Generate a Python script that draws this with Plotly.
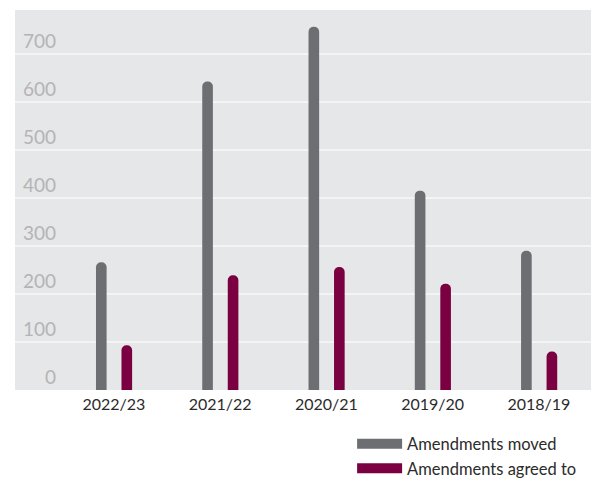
import plotly.graph_objects as go

years = ["2022/23", "2021/22", "2020/21", "2019/20", "2018/19"]
moved = [266, 642, 756, 415, 290]
agreed = [93, 239, 256, 221, 80]
y_ticks = [0, 100, 200, 300, 400, 500, 600, 700]

GREY = "#6d6e71"
MAROON = "#7b0041"
FONT = "Lato, 'Open Sans', sans-serif"

fig = go.Figure()
fig.add_trace(go.Bar(x=years, y=moved, width=0.1, offset=-0.168,
                     marker=dict(color=GREY, cornerradius="50%", line_width=0),
                     showlegend=False, name="Amendments moved"))
fig.add_trace(go.Bar(x=years, y=agreed, width=0.1, offset=0.072,
                     marker=dict(color=MAROON, cornerradius="50%", line_width=0),
                     showlegend=False, name="Amendments agreed to"))
# legend entries
fig.add_trace(go.Scatter(x=[None], y=[None], mode="lines", name="Amendments moved",
                         line=dict(color=GREY, width=11)))
fig.add_trace(go.Scatter(x=[None], y=[None], mode="lines", name="Amendments agreed to",
                         line=dict(color=MAROON, width=11)))

for v in y_ticks:
    fig.add_annotation(x=0.0747, xref="paper", y=v, yref="y", text=str(v),
                       xanchor="right", yanchor="bottom", showarrow=False,
                       font=dict(family=FONT, size=19, color="#b4b4b6"))

fig.update_layout(
    width=605, height=482,
    margin=dict(l=15, r=14, t=10, b=92, autoexpand=False),
    paper_bgcolor="white", plot_bgcolor="#e6e7e8",
    barmode="overlay",
    font=dict(family=FONT, size=16, color="#2b2b2b"),
    xaxis=dict(range=[-0.93, 4.49], showgrid=False, zeroline=False, showline=False,
               ticks="", ticklabelstandoff=3,
               tickfont=dict(size=16, color="#2b2b2b"), fixedrange=True),
    yaxis=dict(range=[0, 791], tickvals=y_ticks, showticklabels=False,
               gridcolor="#f4f4f5", gridwidth=2, zeroline=False, showline=False, ticks=""),
    legend=dict(xref="container", yref="container", x=0.582, xanchor="left",
                y=0.115, yanchor="top",
                font=dict(size=16.5, color="#2b2b2b"), bgcolor="rgba(0,0,0,0)",
                itemwidth=45, tracegroupgap=0),
)

fig.write_html("out.html", config={"displayModeBar": False},
               post_script="document.body.style.margin='0';")
